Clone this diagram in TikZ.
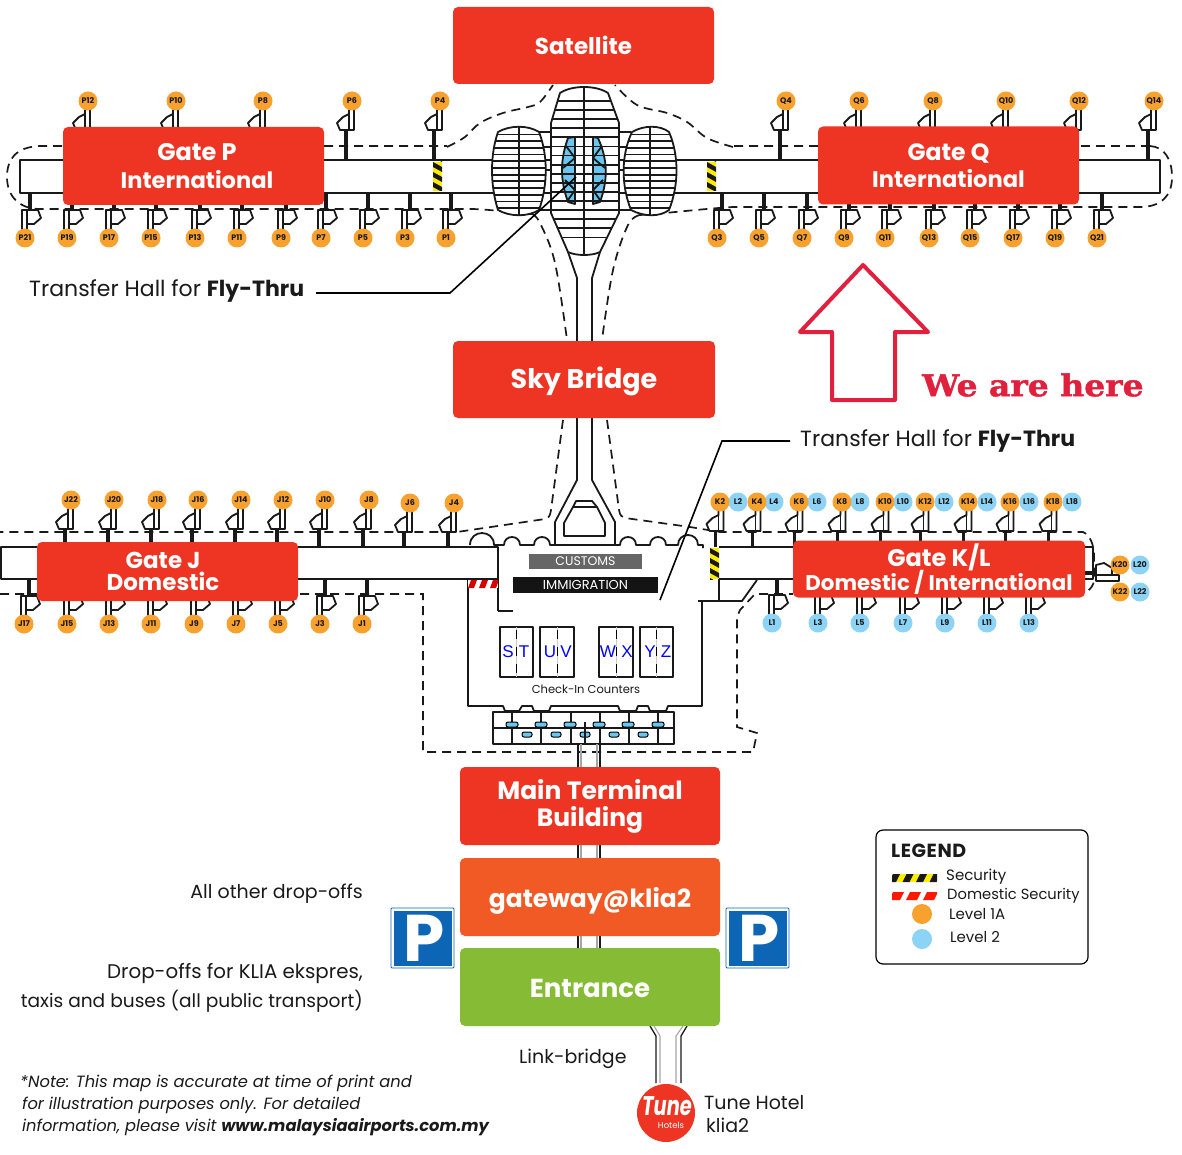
\documentclass[tikz,border=0pt]{standalone}
\usepackage{fontspec}
\usepackage{graphicx}
\setmainfont{Poppins}
\newfontfamily\weherefont[FakeBold=1.5,FakeStretch=1.1]{DejaVu Serif Bold}
\newfontfamily\latinsans{Liberation Sans}
\definecolor{rbox}{HTML}{EE3524}
\definecolor{obox}{HTML}{F15A24}
\definecolor{gbox}{HTML}{86BC35}
\definecolor{pinO}{HTML}{F9A12E}
\definecolor{pinB}{HTML}{8DD3F5}
\definecolor{lens}{HTML}{6CC5EE}
\definecolor{ink}{HTML}{1A1A1A}
\definecolor{pblue}{HTML}{0C65B5}
\definecolor{wehere}{HTML}{E0203C}
\newcommand\fs[1]{\fontsize{#1}{#1}\selectfont}
\newcommand\topstand[3]{%
  \draw[ln,fill=white] ({#1-3},{#2+13}) -- ({#1-9},{#2+16}) -- ({#1-15},{#2+22}) -- ({#1-12},{#2+29}) -- ({#1+2},{#2+29}) -- ({#1+2},{#2}) -- ({#1-3},{#2}) -- cycle;
  \draw[ln] ({#1-3},{#2}) -- ({#1-3},{#2+29});
  \draw[stub] ({#1-6},{#2+29}) -- ({#1-6},#3);}
\newcommand\botstand[3]{%
  \draw[ln,fill=white] ({#1+2},{#2-28}) -- ({#1+13},{#2-28}) -- ({#1+16},{#2-20}) -- ({#1+9},{#2-14}) -- ({#1+2},{#2-14}) -- cycle;
  \draw[ln] ({#1-3},{#2}) -- ({#1-3},{#2-28}) -- ({#1+2},{#2-28}) -- ({#1+2},{#2});
  \draw[stub] ({#1+5},{#2-28}) -- ({#1+5},#3);}
\newcommand\hazV[4]{%
  \fill[yellow!95!orange] (#1,#2) rectangle (#3,#4);
  \begin{scope}\clip (#1,#2) rectangle (#3,#4);
  \foreach \k in {-10,0,...,30}{\fill[black!90] (#1,{#2+\k}) -- (#3,{#2+\k+5}) -- (#3,{#2+\k+10}) -- (#1,{#2+\k+5}) -- cycle;}
  \end{scope}}
\newcommand\bump[2]{.. controls ({#1-#2},{545-1.33*#2}) and ({#1+#2},{545-1.33*#2}) .. ({#1+#2},545)}
\newcommand\counter[3]{%
  \draw[ln] (#1,627) rectangle (#2,677);
  \draw[line width=1pt,gray!40] (#3,627) -- (#3,677);
  \draw[line width=.8pt,black,dash pattern=on 9pt off 8pt] (#3,630) -- (#3,677);}
\newcommand\bldL{(498,132) .. controls (510,125) and (528,125) .. (539,132) .. controls (548,155) and (548,185) .. (539,210) .. controls (528,217) and (510,217) .. (498,210) .. controls (490,185) and (490,155) .. cycle}
\newcommand\bldR{(632,132) .. controls (644,125) and (660,125) .. (669,132) .. controls (679,155) and (679,185) .. (669,210) .. controls (660,217) and (644,217) .. (631,210) .. controls (621,185) and (621,155) .. cycle}
\newcommand\bldC{(560,93) .. controls (572,85) and (596,85) .. (608,93) -- (619,123) -- (619,213) -- (600,252) .. controls (592,256) and (576,256) .. (568,252) -- (551,213) -- (551,123) -- cycle}
\tikzset{
  ln/.style={line width=1.8pt,black!90,line join=round},
  thinln/.style={line width=1.3pt,black!90},
  paleln/.style={line width=1.1pt,black!35},
  stub/.style={line width=3.6pt,black!90},
  dsh/.style={line width=1.7pt,black!90,dash pattern=on 9pt off 6pt},
  bigbox/.style={rounded corners=5pt,inner sep=0pt,text=white,align=center,font=\fs{25}\bfseries},
  pin/.style={circle,inner sep=0pt,minimum size=19pt,text=ink,font=\fs{8}\bfseries},
  pinO/.style={pin,fill=pinO},
  pinB/.style={pin,fill=pinB},
  body/.style={inner sep=0pt,text=ink,font=\fs{19}},
  psign/.style={rounded corners=1pt,draw=pblue,line width=.8pt,fill=white,minimum width=63pt,minimum height=60pt,inner sep=0pt},
  pletter/.style={inner sep=0pt,text=white,font=\fs{66}\bfseries},
}
\begin{document}
\begin{tikzpicture}[x=1pt,y=-1pt]
\useasboundingbox (0,0) rectangle (1182,1155);
\fill[white] (0,0) rectangle (1182,1155);

% dashed security lines, upper concourse
\draw[dsh] (1150,146) -- (1079,146);
\draw[dsh] (818,146) -- (733,146) plot[smooth,tension=.6] coordinates {(733,147) (707,138) (687,122) (667,113) (637,105) (615,85)};
\draw[dsh] (62,146) -- (40,146) .. controls (15,147) and (7,160) .. (7,177) .. controls (7,197) and (20,209) .. (40,209) -- (470,209) .. controls (490,209) and (520,214) .. (532,214) plot[smooth,tension=.6] coordinates {(532,214) (540,223) (555,263) (567,340)};
\draw[dsh] (324,146) -- (447,146) plot[smooth,tension=.6] coordinates {(447,147) (465,137) (480,123) (503,113) (528,107) (540,102) (553,85)};
\draw[dsh] (1150,146) .. controls (1165,147) and (1172,160) .. (1172,177) .. controls (1172,197) and (1160,207) .. (1140,207) -- (733,207) .. controls (700,209) and (660,214) .. (640,215) plot[smooth,tension=.6] coordinates {(640,215) (628,225) (613,270) (602,340)};

% upper concourse
\draw[ln] (1160,160) -- (20,160) -- (20,193) -- (1160,193) -- cycle;
\hazV{433}{162}{442}{191}
\hazV{707}{162}{716}{191}

% stands, upper
\foreach \n/\x in {P12/88,P10/176,P8/263,P6/352,P4/440,Q4/786,Q6/859,Q8/933,Q10/1006,Q12/1079,Q14/1154}{\topstand{\x}{101}{160}}
\foreach \n/\x in {P21/25,P19/67,P17/109,P15/151,P13/195,P11/237,P9/281,P7/321,P5/363,P3/405,P1/446,Q3/717,Q5/759,Q7/802,Q9/844,Q11/885,Q13/929,Q15/970,Q17/1013,Q19/1055,Q21/1097}{\botstand{\x}{238}{193}}

% satellite buildings
\draw[ln] (539,132) -- (551,132) (539,147) -- (551,147) (545,170) -- (551,170) (539,193) -- (551,193) (539,210) -- (551,210);
\draw[ln] (619,132) -- (631,132) (619,147) -- (631,147) (619,170) -- (624,170) (619,193) -- (631,193) (619,210) -- (631,210);
\draw[ln] (568,252) -- (577,278) -- (577,341) (600,252) -- (592,278) -- (592,341);
\path[fill=white] \bldL;
\begin{scope}
\clip \bldL;
\foreach \k in {0,...,11}{\draw[ln] (490,{134.5+6.7*\k}) -- (548,{134.5+6.7*\k});}
\draw[ln] (519,125) -- (519,216);
\end{scope}
\draw[ln] \bldL;
\path[fill=white] \bldR;
\begin{scope}
\clip \bldR;
\foreach \k in {0,...,11}{\draw[ln] (620,{134.5+6.7*\k}) -- (680,{134.5+6.7*\k});}
\draw[ln] (650,125) -- (650,216);
\end{scope}
\draw[ln] \bldR;
\path[fill=white] \bldC;
\begin{scope}
\clip \bldC;
\fill[lens] (575,137) -- (568,138) .. controls (560,160) and (560,180) .. (568,202) -- (575,204) -- cycle;
\fill[lens] (593,137) -- (598,138) .. controls (608,160) and (608,180) .. (600,202) -- (593,204) -- cycle;
\draw[ln] (575,137) -- (568,138) .. controls (560,160) and (560,180) .. (568,202) -- (575,204) -- cycle;
\draw[ln] (593,137) -- (598,138) .. controls (608,160) and (608,180) .. (600,202) -- (593,204) -- cycle;
\foreach \k in {0,...,15}{\draw[ln] (548,{101+9.1*\k}) -- (622,{101+9.1*\k});}
\draw[ln] (584,85) -- (584,256);
\draw[ln] (566,146) -- (575,158) -- (563,168) (565,180) -- (575,190) -- (568,200);
\draw[ln] (602,146) -- (593,158) -- (605,168) (603,180) -- (593,190) -- (600,200);
\end{scope}
\draw[ln] \bldC;

% sky bridge
\draw[ln] (577,418) -- (577,480) -- (555,522) -- (555,545);
\draw[ln] (592,418) -- (592,480) -- (615,522) -- (615,545);
\draw[ln] (573,507) -- (597,507) -- (605,523) -- (605,536) -- (564,536) -- (564,523) -- cycle;
\draw[ln] (573,507) -- (576,501) -- (592,501) -- (597,507);
\draw[dsh] (563,420) -- (551,510) .. controls (550,516) and (549,518) .. (545,519) -- (457,532) -- (0,532);
\draw[dsh] (607,420) -- (619,510) .. controls (620,516) and (622,517) .. (625,518) -- (690,527) -- (720,532) -- (1083,532) .. controls (1090,535) and (1094,545) .. (1094,555) -- (1094,580) .. controls (1094,585) and (1090,590) .. (1085,593);
\draw[dsh] (0,594) -- (423,594) -- (423,752) -- (753,752) -- (757,733) -- (737,727) -- (737,617) -- (740,610) -- (755,594) -- (793,594);

% lower concourses and terminal
\draw[ln] (498,611) -- (513,611) (498,611) -- (498,547) -- (1,547) -- (1,579) -- (498,579);
\draw[ln] (468,579) -- (468,706) -- (503,706) -- (505,711) -- (519,711) -- (522,706) -- (532,706) -- (534,711) -- (549,711) -- (551,706) -- (618,706) -- (620,711) -- (636,711) -- (638,706) -- (648,706) -- (650,711) -- (666,711) -- (668,706) -- (702,706) -- (702,601) -- (698,601);
\draw[ln] (719,547) -- (1093,547) -- (1093,579) -- (719,579) -- (719,601) -- (702,601);
\draw[ln] (719,601) -- (742,601) -- (757,580);
\draw[ln] (470,545) \bump{482}{12} -- (504,545) \bump{512}{8} -- (534,545) \bump{542}{8} -- (620,545) \bump{628}{8} -- (650,545) \bump{658}{8} -- (678,545) \bump{688}{10} -- (703,545) -- (703,548);
\hazV{710}{548}{719}{579}
\begin{scope}
\clip (468,580) rectangle (498,588);
\fill[white] (468,580) rectangle (498,588);
\foreach \k in {0,1,2}{\fill[red!85!black] ({468+\k*11},588) -- ({471+\k*11},580) -- ({477+\k*11},580) -- ({474+\k*11},588) -- cycle;}
\end{scope}

% stands, lower
\foreach \n/\x in {J22/71,J20/114,J18/157,J16/198,J14/241,J12/283,J10/325,J8/369}{\topstand{\x}{500}{547}}
\foreach \n/\x in {J6/410,J4/454}{\topstand{\x}{503}{547}}
\foreach \n/\x in {K2/720,K4/757,K6/799,K8/842,K10/885,K12/925,K14/968,K16/1010,K18/1053}{\topstand{\x+1.5}{502}{547}}
\foreach \n/\x in {J17/24,J15/67,J13/109,J11/151,J9/194,J7/236,J5/278,J3/320,J1/362}{\botstand{\x}{624}{579}}
\foreach \n/\x in {L1/772,L3/818,L5/860,L7/903,L9/945,L11/987,L13/1029}{\botstand{\x}{623}{579}}
\draw[stub] (1085,573) -- (1096,573);
\draw[ln,fill=white] (1096,575) -- (1096,565) -- (1104,563) -- (1112,568) -- (1112,575) -- cycle;
\draw[ln,fill=white] (1096,575) rectangle (1119,581);

% check-in
\node[inner sep=0pt,fill=black!60,minimum width=113pt,minimum height=15pt,text=white,font=\fs{12.5}] (customs) at (585.5,561.5) {CUSTOMS};
\node[inner sep=0pt,fill=black!92,minimum width=145pt,minimum height=16pt,text=white,font=\fs{13}] (immig) at (585.5,585) {IMMIGRATION};
\counter{500}{533}{516.5}
\counter{540}{574}{557}
\counter{599}{633}{616}
\counter{640}{673}{656.5}
\foreach \t/\x in {S/508,T/524,U/550,V/566,W/608,X/627,Y/650,Z/666}{\node[inner sep=0pt,text=blue,font=\latinsans\fs{17}] (c\t) at (\x,652) {\t};}
\node[inner sep=0pt,text=ink,font=\fs{11.5}] (checkin) at (586,689) {Check-In Counters};

% departure-hall block
\draw[ln,fill=white] (493,712) rectangle (674,744);
\draw[ln] (493,728) -- (674,728);
\foreach \x in {512,541,571,600,629,658}{\draw[ln] (\x,712) -- (\x,744);}
\foreach \x in {512,541,570,599,628,658}{\draw[line width=1pt,fill=lens,rounded corners=2pt] ({\x-6},722) rectangle ({\x+6},727);}
\foreach \x in {527,556,585,614,643}{\draw[line width=1pt,fill=lens,rounded corners=2pt] ({\x-5},732) rectangle ({\x+5},737);}
\draw[ln] (585,722) -- (585,743);

% links between the buildings
\foreach \a/\b in {744/767,845/858,936/948}{
  \draw[thinln] (578,\a) -- (578,\b) (600,\a) -- (600,\b);
  \draw[paleln] (581,\a) -- (581,\b) (597,\a) -- (597,\b);}
\draw[thinln] (650,1026) -- (656,1036) -- (656,1083) (687,1026) -- (681,1036) -- (681,1083);
\draw[paleln] (654,1026) -- (660,1036) -- (660,1083) (683,1026) -- (676,1036) -- (676,1083);

% main labelled boxes
\node[bigbox,fill=rbox,font=\fs{23}\bfseries,minimum width=261pt,minimum height=77pt] (satellite) at (583.5,45.5) {Satellite};
\node[bigbox,fill=rbox,font=\fs{22.6}\bfseries,minimum width=261pt,minimum height=78pt] (gateP) at (193.5,166) {\hspace*{7pt}{\fs{24}Gate P}\\[5pt]\hspace*{7pt}International};
\node[bigbox,fill=rbox,font=\fs{22.6}\bfseries,minimum width=261pt,minimum height=78pt] (gateQ) at (948.5,165.5) {{\fs{23.6}Gate Q}\\[5pt]International};
\node[bigbox,fill=rbox,font=\fs{27}\bfseries,text height=23pt,text depth=6pt,minimum width=262pt,minimum height=77pt] (skybridge) at (584,379.5) {Sky Bridge};
\node[bigbox,fill=rbox,font=\fs{23}\bfseries,minimum width=261pt,minimum height=59pt] (gateJ) at (167.5,571.5) {Gate J\hspace*{9pt}\\[-1pt]Domestic\hspace*{9pt}};
\node[bigbox,fill=rbox,font=\fs{21.3}\bfseries,minimum width=292pt,minimum height=57pt] (gateKL) at (939,569) {{\fs{24}Gate K/L}\\[-2pt]Domestic / International};
\node[bigbox,fill=rbox,minimum width=260pt,minimum height=78pt] (mtb) at (590,806) {Main Terminal\\[2pt]Building};
\node[bigbox,fill=obox,text height=26pt,text depth=5pt,minimum width=260pt,minimum height=78pt] (gateway) at (590,897) {gateway@klia2};
\node[bigbox,fill=gbox,font=\fs{26}\bfseries,text height=25pt,text depth=5pt,minimum width=260pt,minimum height=78pt] (entrance) at (590,987) {Entrance};

% gate pins
\foreach \n/\x in {P12/88,P10/176,P8/263,P6/352,P4/440,Q4/786,Q6/859,Q8/933,Q10/1006,Q12/1079,Q14/1154}{\node[pinO] (\n) at (\x,101) {\n};}
\foreach \n/\x in {P21/25,P19/67,P17/109,P15/151,P13/195,P11/237,P9/281,P7/321,P5/363,P3/405,P1/446,Q3/717,Q5/759,Q7/802,Q9/844,Q11/885,Q13/929,Q15/970,Q17/1013,Q19/1055,Q21/1097}{\node[pinO] (\n) at (\x,238) {\n};}
\foreach \n/\x in {J22/71,J20/114,J18/157,J16/198,J14/241,J12/283,J10/325,J8/369}{\node[pinO] (\n) at (\x,500) {\n};}
\foreach \n/\x in {J6/410,J4/454}{\node[pinO] (\n) at (\x,503) {\n};}
\foreach \n/\x in {J17/24,J15/67,J13/109,J11/151,J9/194,J7/236,J5/278,J3/320,J1/362}{\node[pinO] (\n) at (\x,624) {\n};}
\foreach \n/\x in {L2/738,L4/774,L6/817,L8/860,L10/903,L12/944,L14/987,L16/1029,L18/1072}{\node[pinB] (\n) at (\x,502) {\n};}
\foreach \n/\x in {K2/720,K4/757,K6/799,K8/842,K10/885,K12/925,K14/968,K16/1010,K18/1053}{\node[pinO] (\n) at (\x,502) {\n};}
\foreach \n/\x in {L1/772,L3/818,L5/860,L7/903,L9/945,L11/987,L13/1029}{\node[pinB] (\n) at (\x,623) {\n};}
\node[pinO] (K20) at (1120,565) {K20};
\node[pinB] (L20) at (1140,565) {L20};
\node[pinO] (K22) at (1120,592) {K22};
\node[pinB] (L22) at (1140,592) {L22};

% callouts
\node[body,anchor=west,font=\fs{22}] (fly1) at (29,291) {Transfer Hall for \textbf{Fly-Thru}};
\node[body,anchor=west,font=\fs{22}] (fly2) at (800,441) {Transfer Hall for \textbf{Fly-Thru}};
\coordinate (hall1) at (576,177);
\coordinate (hall2) at (660,600);
\draw[line width=1.6pt,black] (316,293) -- (450,293) -- (hall1);
\draw[line width=1.6pt,black] (790,441) -- (722,441) -- (hall2);

% we are here
\draw[line width=4pt,wehere,line join=round] (863,265) -- (928,332) -- (895,332) -- (895,400) -- (832,400) -- (832,332) -- (800,332) -- cycle;
\node[inner sep=0pt,anchor=west,text=wehere,font=\weherefont\fs{30}] (here) at (922,385) {We are here};

% parking
\node[psign] (parkL) at (422.5,938) {};
\fill[pblue] (393.5,910.5) rectangle (452,965.5);
\node[pletter] (pL) at (424,938) {P};
\node[psign] (parkR) at (757.5,938) {};
\fill[pblue] (728.5,910.5) rectangle (787,965.5);
\node[pletter] (pR) at (759,938) {P};

% text
\node[body,anchor=east] (drop1) at (363,894) {All other drop-offs};
\node[body,anchor=east,font=\fs{19.8}] (drop2) at (363,973) {Drop-offs for KLIA ekspres,};
\node[body,anchor=east,font=\fs{18.6}] (drop3) at (363,1001) {taxis and buses (all public transport)};
\node[body,anchor=west] (linkb) at (519,1059) {Link-bridge};
\node[body,anchor=west,font=\fs{16.3}\itshape] (n1) at (20,1083) {*Note: This map is accurate at time of print and};
\node[body,anchor=west,font=\fs{16.3}\itshape] (n2) at (22,1105) {for illustration purposes only.  For detailed};
\node[body,anchor=west,font=\fs{16.3}\itshape] (n3) at (22,1127) {information, please visit \textbf{www.malaysiaairports.com.my}};

% Tune Hotels
\fill[rbox] (666,1113) circle (29);
\node[inner sep=0pt,text=white,font=\fs{27}\bfseries\itshape] (tune) at (667,1106) {\scalebox{.72}[1]{Tune}};
\node[inner sep=0pt,text=white,font=\fs{8.5}] (hotels) at (671,1125) {Hotels};
\node[body,anchor=west] (th1) at (704,1103) {Tune Hotel};
\node[body,anchor=west] (th2) at (706,1125) {klia2};

% legend
\draw[line width=1.2pt,rounded corners=7pt,fill=white] (876,830) rectangle (1088,964);
\node[inner sep=0pt,anchor=west,text=ink,font=\fs{19}\bfseries\addfontfeature{LetterSpace=3}] (lg) at (891,851) {LEGEND};
\begin{scope}
\clip (892,874) rectangle (937,882);
\fill[yellow!95!orange] (892,874) rectangle (937,882);
\foreach \k in {0,...,3}{\fill[black!90] ({889+\k*13.5},882) -- ({893+\k*13.5},874) -- ({900+\k*13.5},874) -- ({896+\k*13.5},882) -- cycle;}
\end{scope}
\begin{scope}
\clip (892,892) rectangle (937,900);
\foreach \k in {0,...,2}{\fill[red!80!orange] ({889+\k*17},900) -- ({893+\k*17},892) -- ({904+\k*17},892) -- ({900+\k*17},900) -- cycle;}
\end{scope}
\node[inner sep=0pt,anchor=west,text=ink,font=\fs{15}] (l1) at (946,877) {Security};
\node[inner sep=0pt,anchor=west,text=ink,font=\fs{14.7}] (l2) at (947,896) {Domestic Security};
\node[circle,fill=pinO,minimum size=20pt,inner sep=0pt] (c1) at (922,914) {};
\node[circle,fill=pinB,minimum size=20pt,inner sep=0pt] (c2) at (922,939) {};
\node[inner sep=0pt,anchor=west,text=ink,font=\fs{15}] (l3) at (949,914) {Level 1A};
\node[inner sep=0pt,anchor=west,text=ink,font=\fs{15}] (l4) at (950,937) {Level 2};
\end{tikzpicture}
\end{document}
